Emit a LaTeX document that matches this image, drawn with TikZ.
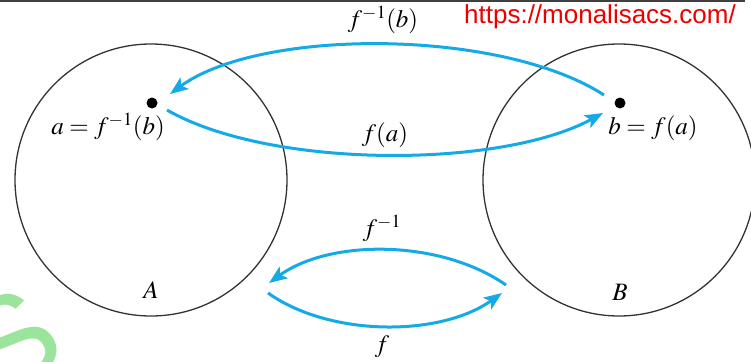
\documentclass[tikz,border=0pt]{standalone}
\usepackage{mathptmx}
\usepackage{fontspec}
\newfontfamily\urlfont{Liberation Sans}
\usetikzlibrary{arrows.meta}
\definecolor{arrowblue}{RGB}{20,170,230}
\definecolor{wmgreen}{RGB}{155,228,155}
\definecolor{urlred}{RGB}{235,0,0}
\tikzset{
  setcircle/.style={draw=black!80,line width=1.3pt,circle,inner sep=0pt,minimum size=272pt},
  point/.style={fill=black,circle,inner sep=0pt,minimum size=11pt},
  maparrow/.style={draw=arrowblue,line width=3pt,-{Stealth[length=18pt,width=14pt,inset=4pt]}},
  lbl/.style={inner sep=1pt,font=\fontsize{25}{28}\selectfont},
}
\begin{document}
\begin{tikzpicture}[x=1pt,y=-1pt]
\useasboundingbox (0,0) rectangle (751,361);
\fill[white] (0,0) rectangle (751,361);
% watermark
\node[text=wmgreen,rotate=35,font=\urlfont\fontsize{130}{130}\selectfont] (wm) at (10,342) {S};
% top rule
\coordinate (r1) at (0,0.8);
\coordinate (r2) at (745,0.8);
\draw[black!75,line width=1.6pt] (r1) -- (r2);
% sets
\node[setcircle] (setA) at (151,180) {};
\node[setcircle] (setB) at (619,180) {};
% points
\node[point] (a) at (152,103) {};
\node[point] (b) at (620,103) {};
% arrow end points
\coordinate (t1s) at (604,95);
\coordinate (t1e) at (170,94);
\coordinate (t2s) at (167,110);
\coordinate (t2e) at (603,113);
\coordinate (b1s) at (506,285);
\coordinate (b1e) at (269,283);
\coordinate (b2s) at (268,293);
\coordinate (b2e) at (502,293);
\draw[maparrow] (t1s) .. controls (500,28) and (260,28) .. (t1e);
\draw[maparrow] (t2s) .. controls (270,169) and (500,169) .. (t2e);
\draw[maparrow] (b1s) .. controls (440,239) and (330,239) .. (b1e);
\draw[maparrow] (b2s) .. controls (330,337) and (440,337) .. (b2e);
% labels
\node[lbl] (la) at (108,127) {$a=f^{-1}(b)$};
\node[lbl] (lb) at (653,128) {$b=f(a)$};
\node[lbl] (lt1) at (383,20) {$f^{-1}(b)$};
\node[lbl] (lt2) at (385,135) {$f(a)$};
\node[lbl] (lb1) at (382,228) {$f^{-1}$};
\node[lbl] (lb2) at (382,347) {$f$};
\node[lbl] (lA) at (151,290) {$A$};
\node[lbl] (lB) at (620,292) {$B$};
% url
\node[text=urlred,font=\urlfont\fontsize{26}{28}\selectfont,anchor=east,inner sep=0pt] (url) at (736,17) {https://monalisacs.com/};
\end{tikzpicture}
\end{document}
